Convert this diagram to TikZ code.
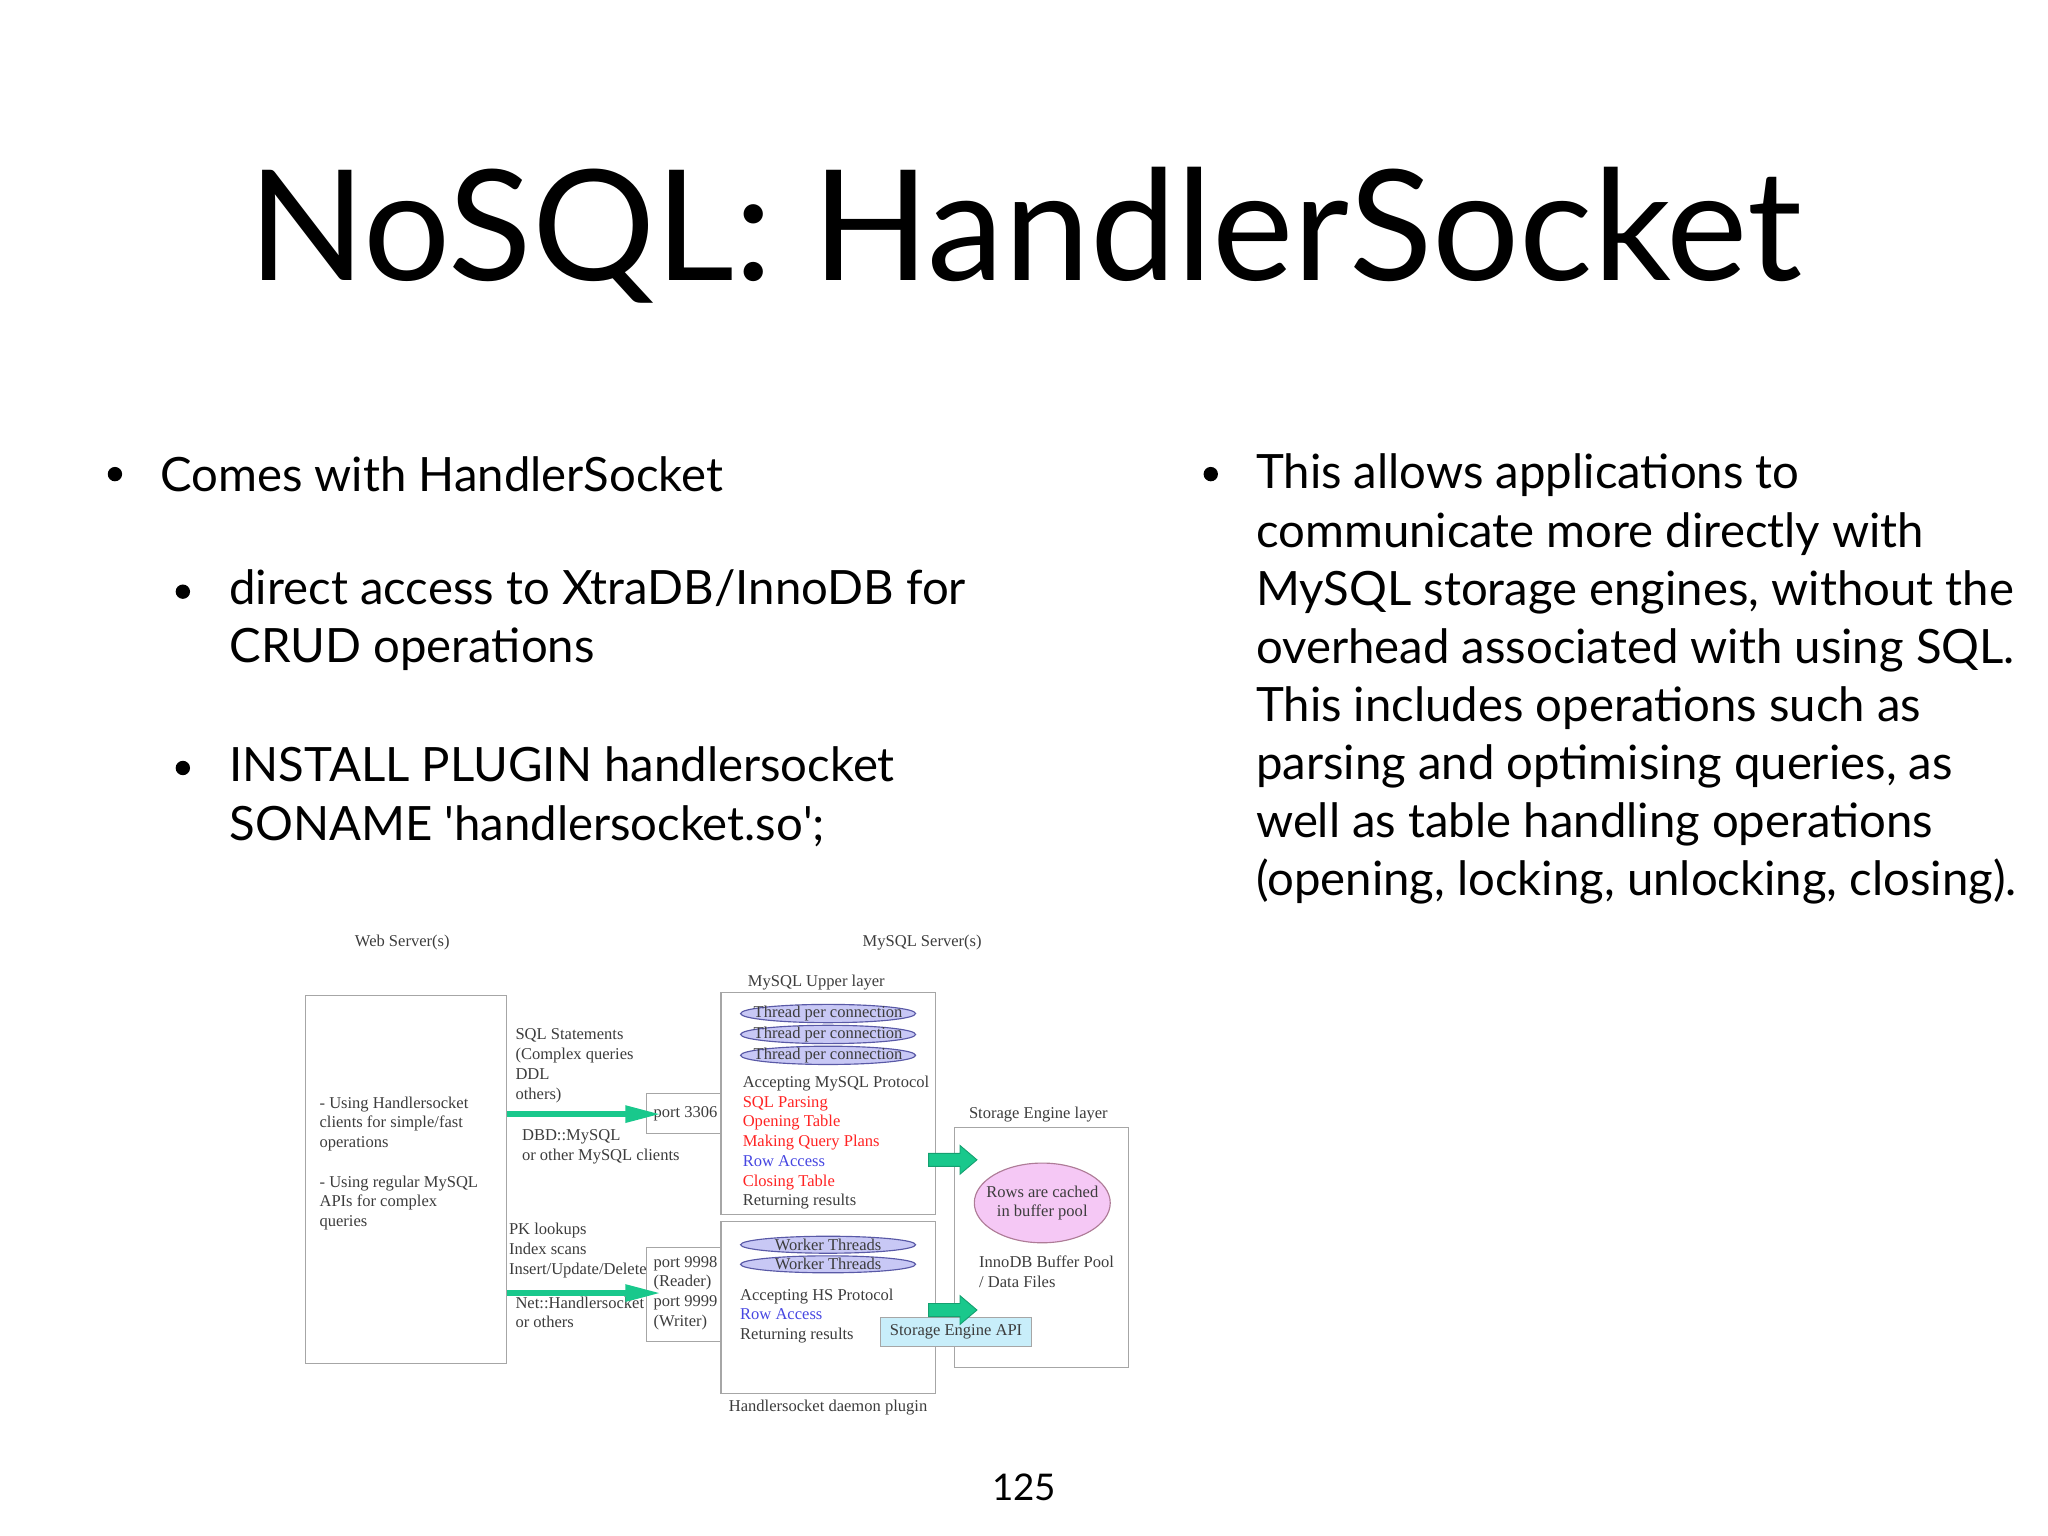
\documentclass[tikz,border=0pt]{standalone}
\usepackage{fontspec}
\setmainfont{Lato}
\newfontfamily\diafont{Liberation Serif}
\usetikzlibrary{positioning,shapes.geometric,arrows.meta}
\definecolor{hsgreen}{RGB}{25,200,140}
\definecolor{lavender}{RGB}{200,200,245}
\definecolor{pinkfill}{RGB}{245,200,245}
\definecolor{apiblue}{RGB}{200,238,250}
\definecolor{diared}{RGB}{255,35,35}
\definecolor{diablue}{RGB}{70,70,225}
\definecolor{diagray}{RGB}{60,60,60}
\tikzset{
  body/.style={anchor=west, inner sep=0pt, font=\fontsize{10.3}{12.65}\selectfont},
  dot/.style={circle, fill=black, inner sep=0pt, minimum size=0.11cm},
  dia/.style={inner sep=0pt, text=diagray, font=\diafont\fontsize{3.6}{4.3}\selectfont},
  box/.style={draw=gray!70, line width=0.25pt},
  thread/.style={draw=gray!70!blue, fill=lavender, line width=0.25pt},
  flow/.style={draw=hsgreen, line width=0.05cm, -{Triangle[length=0.28cm, width=0.12cm]}},
  bigarrow/.style={fill=hsgreen, draw=hsgreen!80!black, line width=0.2pt}
}
\newcommand{\blockarrow}[2]{%
  \draw[bigarrow] (#1,#2-5) -- (#1+24,#2-5) -- (#1+24,#2-11) -- (#1+37,#2)
    -- (#1+24,#2+11) -- (#1+24,#2+5) -- (#1,#2+5) -- cycle;}
\begin{document}
\begin{tikzpicture}[x=0.01cm, y=-0.01cm]
    \useasboundingbox (0,0) rectangle (1568,1176);

    % Title
    \node (title) at (785,180) {\fontsize{33.5}{38}\selectfont NoSQL: HandlerSocket};

    % Left column
    \node[dot] (b1) at (88,363) {};
    \node[body] (t1) at (122,363) {Comes with HandlerSocket};
    \node[dot] (b2) at (140,453) {};
    \node[body, align=left] (t2) at (175,475) {direct access to XtraDB/InnoDB for\\CRUD operations};
    \node[dot] (b3) at (140,588) {};
    \node[body, align=left] (t3) at (175,610) {INSTALL PLUGIN handlersocket\\SONAME \textquotesingle handlersocket.so\textquotesingle;};

    % Right column
    \node[dot] (b4) at (927,363) {};
    \node[body, anchor=north west, align=left] (t4) at (961,347) {This allows applications to\\communicate more directly with\\MySQL storage engines, without the\\overhead associated with using SQL.\\This includes operations such as\\parsing and optimising queries, as\\well as table handling operations\\(opening, locking, unlocking, closing).};

    % Diagram boxes
    \draw[box] (234,762) rectangle (388,1044);
    \coordinate (web) at (388,762);
    \draw[box] (495,837) rectangle (552,868);
    \node[dia, anchor=east] (p3306) at (550,853) {port 3306};
    \draw[box] (495,955) rectangle (552,1027);
    \node[dia, anchor=east, align=left] (p9998) at (550,990) {port 9998\\(Reader)\\port 9999\\(Writer)};
    \draw[box] (552,760) rectangle (716,930);
    \draw[box] (552,935) rectangle (716,1067);
    \draw[box] (731,863) rectangle (864,1047);

    % Diagram labels
    \node[dia] (websrv) at (308,722) {Web Server(s)};
    \node[dia] (mysqlsrv) at (706,722) {MySQL Server(s)};
    \node[dia] (upper) at (625,752) {MySQL Upper layer};
    \node[dia] (selayer) at (795,853) {Storage Engine layer};
    \node[dia] (plugin) at (634,1078) {Handlersocket daemon plugin};
    \node[dia, anchor=north west, align=left] (webtxt) at (244,839) {- Using Handlersocket\\clients for simple/fast\\operations\\[4.3pt]- Using regular MySQL\\APIs for complex\\queries};
    \node[dia, anchor=north west, align=left] (sqltxt) at (394,787) {SQL Statements\\(Complex queries\\DDL\\others)};
    \node[dia, anchor=north west, align=left] (dbdtxt) at (399,864) {DBD::MySQL\\or other MySQL clients};
    \node[dia, anchor=north west, align=left] (pktxt) at (389,936) {PK lookups\\Index scans\\Insert/Update/Delete};
    \node[dia, anchor=north west, align=left] (nettxt) at (394,992) {Net::Handlersocket\\or others};

    % Threads
    \foreach \y [count=\i] in {776,792,808} {
        \draw[thread] (634,\y) ellipse [x radius=67, y radius=7];
        \node[dia] (thr\i) at (634,\y) {Thread per connection};
    }
    \foreach \y [count=\i] in {953,968} {
        \draw[thread] (634,\y) ellipse [x radius=67, y radius=6.5];
        \node[dia] (wrk\i) at (634,\y) {Worker Threads};
    }

    \node[dia, anchor=north west, align=left] (uptxt) at (568,823) {Accepting MySQL Protocol\\\textcolor{diared}{SQL Parsing}\\\textcolor{diared}{Opening Table}\\\textcolor{diared}{Making Query Plans}\\\textcolor{diablue}{Row Access}\\\textcolor{diared}{Closing Table}\\Returning results};
    \node[dia, anchor=north west, align=left] (hstxt) at (566,986) {Accepting HS Protocol\\\textcolor{diablue}{Row Access}\\Returning results};

    % Storage engine
    \node[ellipse, draw=gray!70!magenta, fill=pinkfill, line width=0.25pt, minimum width=1.04cm, minimum height=0.61cm, inner sep=0pt] (cache) at (798,921) {};
    \node[dia, align=center] (cachetxt) at (cache) {Rows are cached\\in buffer pool};
    \node[dia, anchor=north west, align=left] (pool) at (749,961) {InnoDB Buffer Pool\\/ Data Files};
    \node[draw=gray!70, fill=apiblue, line width=0.25pt, minimum width=1.16cm, minimum height=0.22cm, dia] (api) at (732,1020) {Storage Engine API};

    % Arrows
    \draw[flow] (web |- p3306.west) -- ([xshift=2pt]p3306.west);
    \draw[flow] (web |- p9998.west) -- ([xshift=2pt]p9998.west);
    \blockarrow{711}{888}
    \blockarrow{711}{1003}

    % Page number
    \node (page) at (784,1139) {\fontsize{8}{10}\selectfont 125};
\end{tikzpicture}
\end{document}
